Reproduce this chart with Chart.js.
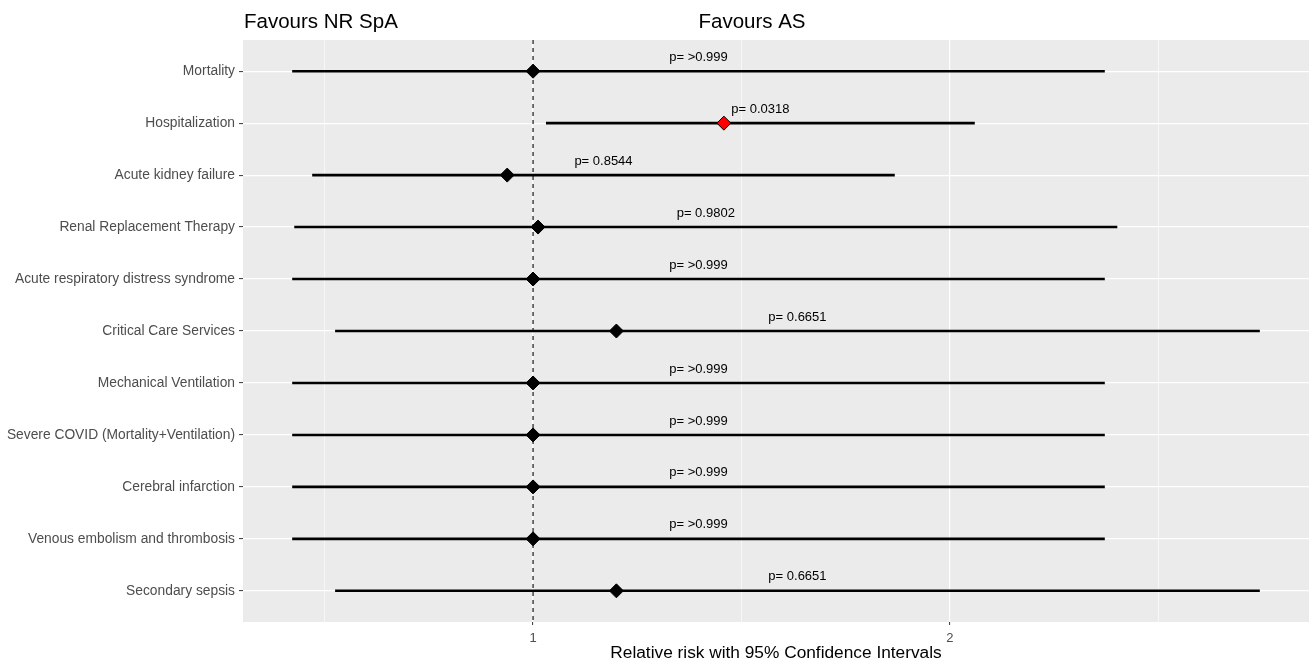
<!DOCTYPE html>
<html>
<head>
<meta charset="utf-8">
<title>Relative risk forest plot</title>
<script src="https://cdn.jsdelivr.net/npm/chart.js@4/dist/chart.umd.min.js"></script>
<style>
  html, body { margin: 0; padding: 0; background: #ffffff; }
  canvas { display: block; }
</style>
</head>
<body>
<canvas id="forest" width="1309" height="668"></canvas>
<script>
// Outcomes, top to bottom
const outcomes = [
  'Mortality',
  'Hospitalization',
  'Acute kidney failure',
  'Renal Replacement Therapy',
  'Acute respiratory distress syndrome',
  'Critical Care Services',
  'Mechanical Ventilation',
  'Severe COVID (Mortality+Ventilation)',
  'Cerebral infarction',
  'Venous embolism and thrombosis',
  'Secondary sepsis'
];

// Relative risk and 95% confidence bounds
const relativeRisk = [1.000, 1.458, 0.938, 1.012, 1.000, 1.200, 1.000, 1.000, 1.000, 1.000, 1.200];
const ciLower      = [0.422, 1.031, 0.470, 0.427, 0.422, 0.525, 0.422, 0.422, 0.422, 0.422, 0.525];
const ciUpper      = [2.372, 2.060, 1.868, 2.402, 2.372, 2.744, 2.372, 2.372, 2.372, 2.372, 2.744];

// p-values shown above each interval
const pValues = ['>0.999', '0.0318', '0.8544', '0.9802', '>0.999', '0.6651', '>0.999', '>0.999', '>0.999', '>0.999', '0.6651'];

// Significant outcomes get a red marker
const significant = [false, true, false, false, false, false, false, false, false, false, false];

// x-axis gridline positions and labelled ticks
const xGridValues = [0.5, 1, 1.5, 2, 2.5];
const xTickLabels = { 1: '1', 2: '2' };

const FONT = '"Liberation Sans", Arial, Helvetica, sans-serif';
const PANEL_BG = '#EBEBEB';
const AXIS_TEXT = '#4D4D4D';

const rowIndex = outcomes.map((_, i) => i);

// One line per confidence interval
const ciDatasets = rowIndex.map(i => ({
  type: 'line',
  data: [{ x: ciLower[i], y: i }, { x: ciUpper[i], y: i }],
  borderColor: '#000000',
  borderWidth: 2.6,
  pointRadius: 0,
  order: 2
}));

// Reference line at no effect (RR = 1)
const refLine = {
  type: 'line',
  data: [{ x: 1, y: -0.6 }, { x: 1, y: outcomes.length - 0.4 }],
  borderColor: '#000000',
  borderWidth: 1.1,
  borderDash: [4, 4],
  pointRadius: 0,
  order: 3
};

// Point estimates
const pointSet = {
  type: 'scatter',
  data: rowIndex.map(i => ({ x: relativeRisk[i], y: i })),
  pointStyle: 'rectRot',
  pointRadius: 7,
  pointBackgroundColor: rowIndex.map(i => significant[i] ? '#FF0000' : '#000000'),
  pointBorderColor: '#000000',
  pointBorderWidth: 1,
  order: 1
};

// Grey panel behind the plotting area
const panelBackground = {
  id: 'panelBackground',
  beforeDraw(chart) {
    const { ctx, chartArea: a } = chart;
    ctx.save();
    ctx.fillStyle = PANEL_BG;
    ctx.fillRect(a.left, a.top, a.right - a.left, a.bottom - a.top);
    ctx.restore();
  }
};

// p-value labels centred over each interval, plus the side headings
const annotations = {
  id: 'annotations',
  afterDatasetsDraw(chart) {
    const { ctx, scales: { x, y } } = chart;
    ctx.save();
    ctx.fillStyle = '#000000';
    ctx.font = '13px ' + FONT;
    ctx.textAlign = 'center';
    ctx.textBaseline = 'middle';
    rowIndex.forEach(i => {
      const px = x.getPixelForValue((ciLower[i] + ciUpper[i]) / 2);
      const py = y.getPixelForValue(i) - 14;
      ctx.fillText('p= ' + pValues[i], px, py);
    });
    ctx.restore();
  },
  afterDraw(chart) {
    const { ctx, chartArea: a } = chart;
    ctx.save();
    ctx.fillStyle = '#000000';
    ctx.font = '20.5px ' + FONT;
    ctx.textBaseline = 'alphabetic';
    ctx.textAlign = 'left';
    ctx.fillText('Favours NR SpA', a.left + 1, 28);
    ctx.textAlign = 'center';
    ctx.fillText('Favours AS', 752, 28);
    ctx.restore();
  }
};

new Chart(document.getElementById('forest'), {
  data: { datasets: [refLine, ...ciDatasets, pointSet] },
  options: {
    responsive: false,
    devicePixelRatio: 1,
    animation: false,
    layout: { autoPadding: false, padding: { top: 40, right: 0, bottom: 0, left: 0 } },
    plugins: {
      legend: { display: false },
      tooltip: { enabled: false }
    },
    scales: {
      x: {
        type: 'linear',
        min: 0.304,
        max: 2.862,
        afterBuildTicks(scale) {
          scale.ticks = xGridValues.map(v => ({ value: v }));
        },
        afterFit(scale) {
          scale.height = 46;
          scale.paddingLeft = 0;
          scale.paddingRight = 0;
        },
        border: { display: false },
        grid: {
          color: '#FFFFFF',
          lineWidth: ctx => (ctx.tick && xTickLabels[ctx.tick.value]) ? 1.2 : 0.6,
          tickColor: ctx => (ctx.tick && xTickLabels[ctx.tick.value]) ? '#333333' : 'rgba(0,0,0,0)',
          tickLength: 3,
          tickWidth: 1
        },
        ticks: {
          autoSkip: false,
          maxRotation: 0,
          padding: 6,
          color: AXIS_TEXT,
          font: { family: FONT, size: 13 },
          callback: v => xTickLabels[v] || ''
        },
        title: {
          display: true,
          text: 'Relative risk with 95% Confidence Intervals',
          color: '#000000',
          font: { family: FONT, size: 17.3 },
          padding: { top: 0, bottom: 4 }
        }
      },
      y: {
        type: 'linear',
        reverse: true,
        min: -0.6,
        max: outcomes.length - 0.4,
        afterBuildTicks(scale) {
          scale.ticks = rowIndex.map(v => ({ value: v }));
        },
        afterFit(scale) {
          scale.width = 243;
          scale.paddingTop = 0;
          scale.paddingBottom = 0;
        },
        border: { display: false },
        grid: {
          color: '#FFFFFF',
          lineWidth: 1.2,
          tickColor: '#333333',
          tickLength: 4,
          tickWidth: 1
        },
        ticks: {
          autoSkip: false,
          padding: 4,
          color: AXIS_TEXT,
          font: { family: FONT, size: 13.8 },
          callback: v => outcomes[v]
        }
      }
    }
  },
  plugins: [panelBackground, annotations]
});
</script>
</body>
</html>
